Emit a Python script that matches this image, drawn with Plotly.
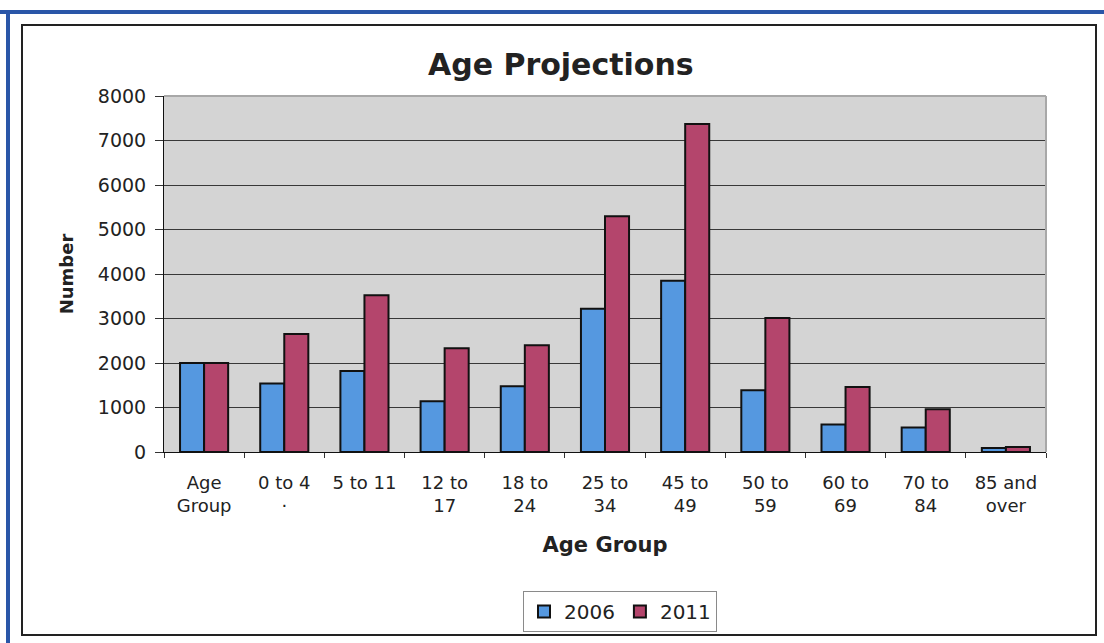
import plotly.graph_objects as go

categories = ["Age<br>Group", "0 to 4<br>·", "5 to 11", "12 to<br>17", "18 to<br>24",
              "25 to<br>34", "45 to<br>49", "50 to<br>59", "60 to<br>69", "70 to<br>84",
              "85 and<br>over"]
values_2006 = [2000, 1540, 1820, 1140, 1480, 3220, 3850, 1390, 620, 550, 90]
values_2011 = [2000, 2650, 3520, 2330, 2400, 5300, 7370, 3010, 1460, 960, 110]
series_names = ["2006", "2011"]
y_ticks = [0, 1000, 2000, 3000, 4000, 5000, 6000, 7000, 8000]

BLUE = "#5598e0"
RED = "#b4456c"
FONT = "DejaVu Sans"

W, H = 1104, 643
L, R, T, B = 164, 58, 96, 191
PW, PH = W - L - R, H - T - B


def px(x):
    return (x - L) / PW


def py(y):
    return (H - B - y) / PH


fig = go.Figure()
fig.add_trace(go.Bar(x=categories, y=values_2006, name=series_names[0],
                     marker=dict(color=BLUE, line=dict(color="#111111", width=2))))
fig.add_trace(go.Bar(x=categories, y=values_2011, name=series_names[1],
                     marker=dict(color=RED, line=dict(color="#111111", width=2))))

shapes = [
    # outer black frame
    dict(type="rect", xref="paper", yref="paper", x0=px(22), x1=px(1096), y0=py(635), y1=py(25),
         line=dict(color="#222222", width=2), layer="below"),
    # blue top and left edge
    dict(type="line", xref="paper", yref="paper", x0=px(0), x1=px(1104), y0=py(12), y1=py(12),
         line=dict(color="#2a56a8", width=4)),
    dict(type="line", xref="paper", yref="paper", x0=px(8), x1=px(8), y0=py(12), y1=py(643),
         line=dict(color="#2a56a8", width=4)),
    # plot area light border at top/right
    dict(type="line", xref="paper", yref="paper", x0=0, x1=1, y0=1, y1=1,
         line=dict(color="#a8a8a8", width=2), layer="above"),
    dict(type="line", xref="paper", yref="paper", x0=1, x1=1, y0=0, y1=1,
         line=dict(color="#a8a8a8", width=2), layer="above"),
]

fig.update_layout(
    width=W, height=H,
    margin=dict(l=L, r=R, t=T, b=B, autoexpand=False),
    paper_bgcolor="white",
    plot_bgcolor="#d4d4d4",
    barmode="group",
    bargap=0.4,
    bargroupgap=0,
    title=dict(text="Age Projections", x=0.508, xref="container", xanchor="center",
               y=1 - 64 / H, yref="container", yanchor="middle",
               font=dict(family=FONT, size=30, color="#222222", weight="bold")),
    xaxis=dict(
        type="category",
        tickson="boundaries",
        ticks="outside", ticklen=5, tickcolor="#333333",
        showline=True, linecolor="#111111", linewidth=1,
        showgrid=False,
        ticklabelstandoff=14,
        tickfont=dict(family=FONT, size=18, color="#222222"),
        title=dict(text="Age Group", standoff=22,
                   font=dict(family=FONT, size=21, color="#222222", weight="bold")),
    ),
    yaxis=dict(
        range=[0, 8000],
        tickvals=y_ticks,
        ticks="outside", ticklen=8, tickcolor="#333333",
        showline=True, linecolor="#111111", linewidth=1,
        showgrid=True, gridcolor="#383838", gridwidth=1,
        zeroline=False,
        ticklabelstandoff=5,
        tickfont=dict(family=FONT, size=19, color="#222222"),
        title=dict(text="Number", standoff=19,
                   font=dict(family=FONT, size=18, color="#222222", weight="bold")),
    ),
    legend=dict(
        orientation="h",
        x=px(620), xanchor="center",
        y=py(591), yanchor="top",
        font=dict(family=FONT, size=20, color="#222222"),
        bordercolor="#8a8a8a", borderwidth=1, bgcolor="white",
    ),
    shapes=shapes,
    showlegend=True,
)

fig.write_html("out.html")
